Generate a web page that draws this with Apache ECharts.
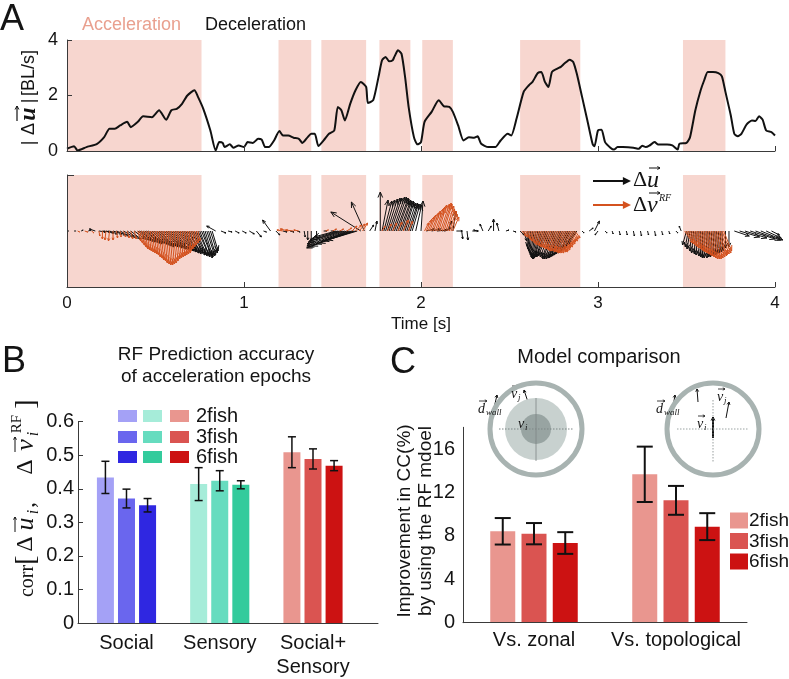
<!DOCTYPE html>
<html>
<head>
<meta charset="utf-8">
<script src="https://cdn.jsdelivr.net/npm/echarts@6/dist/echarts.min.js"></script>
<style>
html,body{margin:0;padding:0;background:#ffffff;}
#chart{width:789px;height:679px;}
</style>
</head>
<body>
<div id="chart"></div>
<script>
// ---------------- DATA ----------------
const speedT = [0.00,0.04,0.06,0.11,0.17,0.21,0.24,0.27,0.30,0.34,0.36,0.40,0.43,0.48,0.52,0.56,0.59,0.62,0.65,0.68,0.72,0.74,0.77,0.81,0.84,0.86,0.88,0.89,0.92,0.94,0.97,1.00,1.02,1.05,1.08,1.10,1.12,1.14,1.17,1.20,1.22,1.25,1.28,1.31,1.33,1.36,1.38,1.40,1.42,1.45,1.48,1.51,1.53,1.55,1.57,1.60,1.63,1.66,1.69,1.70,1.73,1.76,1.78,1.80,1.82,1.84,1.85,1.87,1.89,1.91,1.93,1.96,1.98,2.00,2.02,2.06,2.10,2.13,2.16,2.18,2.21,2.24,2.27,2.30,2.32,2.34,2.38,2.42,2.45,2.49,2.51,2.54,2.58,2.61,2.63,2.66,2.68,2.70,2.72,2.74,2.77,2.79,2.81,2.84,2.86,2.88,2.91,2.94,2.97,2.98,3.00,3.02,3.04,3.07,3.09,3.11,3.14,3.20,3.23,3.25,3.27,3.29,3.32,3.34,3.39,3.42,3.45,3.46,3.50,3.52,3.55,3.58,3.60,3.62,3.65,3.68,3.70,3.72,3.75,3.77,3.79,3.81,3.84,3.87,3.89,3.91,3.93,3.95,3.98,4.00];
const speedV = [0.08,0.17,0.02,0.14,0.26,0.50,0.80,0.80,0.92,1.05,0.86,1.05,1.25,1.22,1.47,1.13,1.47,1.52,1.70,2.00,2.19,1.95,1.52,0.74,0.02,0.32,0.29,0.14,0.24,0.12,0.20,0.14,0.32,0.29,0.44,0.41,0.14,0.14,0.38,0.72,0.56,0.56,0.48,0.44,0.29,0.50,0.62,0.62,0.18,0.38,0.62,0.74,1.59,1.47,1.10,1.70,2.19,2.49,2.31,1.73,1.83,2.67,3.27,3.39,3.23,3.27,3.40,3.63,3.50,2.67,1.59,0.50,0.24,0.32,1.05,1.41,1.83,1.61,1.59,1.41,0.92,0.38,0.50,0.48,0.53,0.26,0.14,0.14,0.38,0.62,0.56,1.17,2.13,2.37,2.49,2.81,2.85,2.49,2.31,2.85,2.97,3.03,3.15,3.29,3.21,2.79,1.95,1.10,0.24,0.17,0.74,0.77,0.32,0.12,0.05,0.14,0.14,0.12,0.08,0.19,0.14,0.19,0.32,0.23,0.23,0.20,0.05,0.26,0.29,0.50,1.47,2.19,2.55,2.85,2.85,2.81,2.69,2.13,1.29,0.62,0.53,0.62,0.96,1.10,1.08,1.25,1.13,0.74,0.68,0.56];
const accelEpochs = [[0,0.76],[1.195,1.38],[1.437,1.69],[1.765,1.94],[2.007,2.18],[2.56,2.90],[3.48,3.72]];
const arrowsU = [[0.00,2,0],[0.04,2,0],[0.08,2,1],[0.12,3,1],[0.16,-6,2],[0.18,7,-1],[0.20,8,-1],[0.22,8,-2],[0.24,8,-3],[0.26,9,-3],[0.28,9,-4],[0.30,9,-5],[0.32,10,-6],[0.34,10,-7],[0.36,10,-8],[0.38,11,-8],[0.40,11,-9],[0.41,12,-9],[0.42,11,-10],[0.43,12,-11],[0.44,12,-10],[0.45,13,-12],[0.46,12,-11],[0.47,12,-13],[0.48,12,-12],[0.49,13,-13],[0.50,13,-13],[0.51,14,-15],[0.52,13,-14],[0.53,13,-16],[0.54,13,-15],[0.55,14,-16],[0.56,13,-15],[0.57,14,-17],[0.58,13,-16],[0.59,14,-18],[0.60,13,-17],[0.61,14,-19],[0.62,14,-18],[0.63,15,-20],[0.64,14,-19],[0.65,14,-21],[0.66,13,-20],[0.67,13,-22],[0.68,13,-21],[0.69,12,-23],[0.70,12,-22],[0.71,12,-24],[0.72,11,-23],[0.73,11,-25],[0.74,11,-24],[0.75,10,-26],[0.76,10,-25],[0.77,9,-27],[0.78,8,-26],[0.79,8,-25],[0.80,7,-24],[0.81,7,-22],[0.82,6,-20],[0.84,-9,5],[0.87,5,-2],[0.91,4,-1],[0.95,4,-2],[0.99,4,-2],[1.03,5,-3],[1.07,5,-6],[1.11,3,-1],[1.15,-8,11],[1.18,4,-4],[1.22,4,-1],[1.26,4,-1],[1.30,3,-1],[1.34,1,-6],[1.36,0,-9],[1.38,0,-10],[1.41,0,-6],[1.45,3,0],[1.49,3,0],[1.52,-22,-6],[1.53,-26,-8],[1.54,-30,-10],[1.55,-33,-11],[1.56,-36,-13],[1.57,-38,-15],[1.58,-40,-17],[1.59,-40,-16],[1.60,-38,-15],[1.61,-36,-13],[1.62,-34,-12],[1.63,-32,-10],[1.64,-30,-9],[1.66,-30,19],[1.68,-13,29],[1.71,4,6],[1.74,2,10],[1.77,0,39],[1.78,6,31],[1.79,8,30],[1.80,9,31],[1.81,10,32],[1.82,11,33],[1.83,11,33],[1.84,12,34],[1.85,12,34],[1.86,12,33],[1.87,11,32],[1.88,11,31],[1.89,10,30],[1.90,10,30],[1.91,9,29],[1.92,9,28],[1.93,9,28],[1.94,8,27],[1.95,8,27],[1.97,6,26],[2.00,2,30],[2.03,8,2],[2.06,9,2],[2.09,10,1],[2.12,9,3],[2.15,4,10],[2.18,3,20],[2.20,6,0],[2.23,1,-8],[2.26,1,-9],[2.29,6,0],[2.32,-4,1],[2.35,-3,7],[2.38,3,5],[2.41,0,12],[2.44,-2,8],[2.48,3,1],[2.52,3,-1],[2.56,4,-4],[2.58,3,-10],[2.60,0,-15],[2.61,-1,-18],[2.62,-2,-20],[2.63,-3,-22],[2.64,-4,-24],[2.65,-5,-26],[2.66,-6,-27],[2.67,-7,-28],[2.68,-8,-28],[2.69,-9,-27],[2.70,-9,-26],[2.71,-10,-26],[2.72,-10,-25],[2.73,-10,-26],[2.74,-10,-27],[2.75,-11,-28],[2.76,-11,-28],[2.77,-11,-28],[2.78,-11,-27],[2.79,-12,-27],[2.80,-12,-26],[2.81,-12,-25],[2.82,-12,-24],[2.83,-12,-23],[2.84,-11,-22],[2.85,-11,-20],[2.86,-10,-18],[2.87,-9,-15],[2.88,-8,-12],[2.91,2,-2],[2.95,4,3],[2.98,5,10],[3.00,-3,-4],[3.04,2,-2],[3.08,1,-3],[3.12,1,-4],[3.16,1,-4],[3.20,1,-5],[3.24,1,-5],[3.28,1,-4],[3.32,1,-5],[3.36,1,-4],[3.40,1,-3],[3.44,2,-2],[3.47,-2,5],[3.50,-4,-14],[3.51,-3,-16],[3.52,-3,-18],[3.53,-2,-20],[3.54,-2,-22],[3.55,-1,-23],[3.56,-1,-24],[3.57,0,-25],[3.58,0,-26],[3.59,0,-27],[3.60,0,-27],[3.61,1,-27],[3.62,1,-26],[3.63,1,-26],[3.64,1,-25],[3.65,1,-25],[3.66,1,-24],[3.67,1,-23],[3.68,1,-22],[3.69,1,-21],[3.70,1,-20],[3.72,0,-17],[3.74,0,-16],[3.77,15,-5],[3.80,20,-6],[3.83,22,-7],[3.86,25,-8],[3.89,25,-9],[3.92,22,-9],[3.95,15,-7],[3.98,8,-4]];
const arrowsV = [[0.06,2,-1],[0.10,3,-1],[0.14,2,-2],[0.18,1,-5],[0.20,0,-8],[0.22,-1,-9],[0.24,-1,-10],[0.26,0,-9],[0.28,1,-7],[0.30,1,-6],[0.32,2,-6],[0.34,2,-7],[0.36,2,-8],[0.38,2,-8],[0.40,3,-10],[0.41,3,-12],[0.42,3,-14],[0.43,3,-16],[0.44,3,-18],[0.45,3,-19],[0.46,3,-20],[0.47,3,-21],[0.48,3,-22],[0.49,3,-23],[0.50,3,-24],[0.51,3,-26],[0.52,3,-27],[0.53,3,-29],[0.54,3,-30],[0.55,3,-32],[0.56,3,-33],[0.57,3,-34],[0.58,3,-34],[0.59,3,-33],[0.60,3,-32],[0.61,3,-30],[0.62,3,-28],[0.63,3,-27],[0.64,3,-26],[0.65,3,-25],[0.66,3,-24],[0.67,3,-23],[0.68,3,-22],[0.69,2,-20],[0.70,2,-18],[0.71,2,-16],[0.72,2,-14],[0.73,2,-12],[0.74,2,-10],[1.22,-6,1],[1.25,-8,2],[1.28,-8,1],[1.31,-5,1],[1.46,3,1],[1.50,4,2],[1.54,4,2],[1.58,5,3],[1.61,5,5],[1.63,6,6],[1.65,6,7],[1.67,5,8],[1.78,3,5],[1.81,4,7],[1.84,4,8],[1.87,4,9],[1.90,5,11],[1.93,4,10],[2.02,4,8],[2.03,5,11],[2.04,6,14],[2.05,6,16],[2.06,7,18],[2.07,7,20],[2.08,8,22],[2.09,8,24],[2.10,8,26],[2.11,9,27],[2.12,9,28],[2.13,8,27],[2.14,8,25],[2.15,7,22],[2.16,7,20],[2.17,6,17],[2.18,6,14],[2.57,4,-5],[2.58,4,-6],[2.59,5,-8],[2.60,5,-10],[2.61,6,-12],[2.62,6,-14],[2.63,7,-15],[2.64,7,-16],[2.65,8,-17],[2.66,8,-18],[2.67,9,-19],[2.68,9,-20],[2.69,9,-20],[2.70,10,-21],[2.71,10,-21],[2.72,10,-22],[2.73,10,-22],[2.74,10,-22],[2.75,10,-22],[2.76,10,-21],[2.77,10,-21],[2.78,9,-20],[2.79,9,-19],[2.80,8,-17],[2.81,8,-16],[2.82,7,-14],[2.83,7,-13],[2.84,6,-11],[2.85,6,-10],[2.86,5,-8],[2.87,5,-7],[3.49,8,-12],[3.50,8,-13],[3.51,9,-15],[3.52,9,-17],[3.53,10,-18],[3.54,10,-20],[3.55,10,-21],[3.56,10,-22],[3.57,10,-23],[3.58,10,-24],[3.59,10,-25],[3.60,10,-26],[3.61,10,-27],[3.62,10,-28],[3.63,10,-28],[3.64,10,-28],[3.65,10,-27],[3.66,10,-26],[3.67,10,-25],[3.68,9,-24],[3.69,9,-23],[3.70,9,-22],[3.71,8,-20]];
const timeTicks = [0,1,2,3,4];

const bCategories = ['Social','Sensory','Social+\nSensory'];
const bMean2 = [0.434,0.414,0.509];
const bErr2  = [0.048,0.049,0.046];
const bMean3 = [0.371,0.424,0.489];
const bErr3  = [0.028,0.030,0.030];
const bMean6 = [0.351,0.412,0.469];
const bErr6  = [0.020,0.012,0.015];
const bColors2 = ['#a4a1f6','#a6ecd9','#e9968f'];
const bColors3 = ['#6a66ee','#66dcbf','#da5451'];
const bColors6 = ['#2f27e1','#33cb9c','#cc1212'];
const fishNames = ['2fish','3fish','6fish'];

const cCategories = ['Vs. zonal','Vs. topological'];
const cMean2 = [8.42,13.67];
const cErr2  = [1.22,2.55];
const cMean3 = [8.20,11.27];
const cErr3  = [0.98,1.33];
const cMean6 = [7.34,8.85];
const cErr6  = [1.00,1.24];
const cColors = ['#e9968f','#da5451','#cc1212'];
const cTicks = [0,4,8,12,16];

const SANS = "'Liberation Sans', Arial, Helvetica, sans-serif";
const SERIF = "'Liberation Serif', 'Times New Roman', serif";
const AX = '#3a3a3a';
const TXT = '#141414';
const SHADE = '#f7d6cf';
const RED_Q = '#d4521f';

function shadeSeries(gi){
  return {
    type:'custom', xAxisIndex:gi, yAxisIndex:gi, z:1, silent:true,
    data: accelEpochs,
    renderItem(params, api){
      const cs = params.coordSys;
      const p0 = api.coord([api.value(0), 0]);
      const p1 = api.coord([api.value(1), 0]);
      return {type:'rect', shape:{x:p0[0], y:cs.y, width:p1[0]-p0[0], height:cs.height}, style:{fill:SHADE}};
    }
  };
}
function headPts(x1,y1,x2,y2,hl,spread){
  const ang = Math.atan2(y2-y1, x2-x1);
  const a1 = ang + Math.PI - spread, a2 = ang - Math.PI + spread;
  return [[x2+hl*Math.cos(a1), y2+hl*Math.sin(a1)], [x2,y2], [x2+hl*Math.cos(a2), y2+hl*Math.sin(a2)]];
}
function quiverSeries(arr, color, z){
  return {
    type:'custom', xAxisIndex:1, yAxisIndex:1, z:z, silent:true,
    data: arr,
    renderItem(params, api){
      const base = api.coord([api.value(0), 0]);
      const s = api.size([0,1])[1];
      const dx = api.value(1)*s, dy = -api.value(2)*s;
      const tip = [base[0]+dx, base[1]+dy];
      const len = Math.hypot(dx,dy);
      const ch = [{type:'line', shape:{x1:base[0],y1:base[1],x2:tip[0],y2:tip[1]}, style:{stroke:color, lineWidth:1}}];
      if (len > 2){
        const hl = Math.min(len*0.28, 6);
        ch.push({type:'polyline', shape:{points:headPts(base[0],base[1],tip[0],tip[1],hl,0.4)}, style:{stroke:color, fill:null, lineWidth:1}});
      }
      return {type:'group', children:ch};
    }
  };
}
function groupBarSeries(xi, means, colors, k, pitch, width){
  return {
    type:'custom', xAxisIndex:xi, yAxisIndex:xi, z:3, silent:true,
    data: means.map((m,i)=>[i, m]),
    renderItem(params, api){
      const i = params.dataIndex;
      const top = api.coord([i, means[i]]);
      const bot = api.coord([i, 0]);
      const cx = top[0] + (k-1)*pitch;
      return {type:'rect', shape:{x:cx-width/2, y:top[1], width:width, height:bot[1]-top[1]},
        style:{fill: Array.isArray(colors) ? colors[i] : colors}};
    }
  };
}
function errSeries(xi, means, errs, k, pitch, cap, lw){
  return {
    type:'custom', xAxisIndex:xi, yAxisIndex:xi, z:5, silent:true,
    data: means.map((m,i)=>[i, m]),
    renderItem(params, api){
      const i = params.dataIndex;
      const m = means[i], e = errs[i];
      const pc = api.coord([i, m]);
      const x = pc[0] + (k-1)*pitch;
      const y1 = api.coord([i, m + e])[1];
      const y2 = api.coord([i, m - e])[1];
      const st = {stroke:'#111', lineWidth:lw, fill:null};
      return {type:'group', children:[
        {type:'polyline', shape:{points:[[x-cap,y1],[x+cap,y1]]}, style:st},
        {type:'polyline', shape:{points:[[x,y1],[x,y2]]}, style:st},
        {type:'polyline', shape:{points:[[x-cap,y2],[x+cap,y2]]}, style:st}
      ]};
    }
  };
}

function txt(x,y,text,size,opts){
  opts = opts || {};
  return {type:'text', x:x, y:y, rotation:opts.rot||0, z:100, silent:true,
    style:{text:text, fontSize:size, fontFamily:opts.family||SANS, fontStyle:opts.style||'normal', fontWeight:opts.weight||'normal',
      fill:opts.color||TXT, textAlign:opts.align||'left', textVerticalAlign:'middle', align:opts.align||'left', verticalAlign:'middle'}};
}
function arrowG(x1,y1,x2,y2,color,lw,hl,filled){
  const pts = headPts(x1,y1,x2,y2,hl,filled?0.45:0.5);
  const ch = [];
  if (filled){
    const ang = Math.atan2(y2-y1,x2-x1);
    ch.push({type:'line', shape:{x1:x1,y1:y1,x2:x2-hl*0.8*Math.cos(ang),y2:y2-hl*0.8*Math.sin(ang)}, style:{stroke:color,lineWidth:lw}});
    ch.push({type:'polygon', shape:{points:pts}, style:{fill:color}});
  } else {
    ch.push({type:'line', shape:{x1:x1,y1:y1,x2:x2,y2:y2}, style:{stroke:color,lineWidth:lw}});
    ch.push({type:'polyline', shape:{points:pts}, style:{stroke:color,lineWidth:Math.min(lw,1),fill:null}});
  }
  return {type:'group', z:100, silent:true, children:ch};
}
function circ(cx,cy,r,fill,stroke,lw){
  return {type:'circle', z:90, silent:true, shape:{cx:cx,cy:cy,r:r}, style:{fill:fill||null, stroke:stroke||null, lineWidth:lw||0}};
}
function lineG(x1,y1,x2,y2,color,lw,dash){
  return {type:'line', z:95, silent:true, shape:{x1:x1,y1:y1,x2:x2,y2:y2}, style:{stroke:color,lineWidth:lw,lineDash:dash||null}};
}
function vecLabel(x,y,letter,sub){
  const w = letter==='d' ? 7 : 6;
  return [
    txt(x,y,letter,14,{family:SERIF, style:'italic'}),
    txt(x+w+1,y+4,sub,9,{family:SERIF, style:'italic'}),
    arrowG(x+1,y-8,x+w+2,y-8,'#111',0.8,2.5,false)
  ];
}

const I = Math.PI/2;
const graphics = [
  txt(0,20,'A',36),
  txt(2,362,'B',36),
  txt(390,363,'C',36),
  txt(82,25,'Acceleration',18,{color:'#e9a08f'}),
  txt(205,25,'Deceleration',18),
  txt(29,143,'|',18,{rot:I, align:'center'}),
  txt(29,129,'\u0394',18,{rot:I, align:'center'}),
  txt(29,114,'u',24,{rot:I, align:'center', family:SERIF, style:'italic', weight:'bold'}),
  arrowG(17,121,17,106,'#111',1.2,4,false),
  txt(29,101,'|',18,{rot:I, align:'center'}),
  txt(29,73,'[BL/s]',18,{rot:I, align:'center'}),
  arrowG(593,181,631,181,'#111',2,9,true),
  arrowG(593,205,631,205,RED_Q,2,9,true),
  txt(633,180,'\u0394',22,{family:SERIF}),
  txt(647,181,'u',24,{family:SERIF, style:'italic'}),
  arrowG(649,168,660,168,'#111',1,3,false),
  txt(633,205,'\u0394',22,{family:SERIF}),
  txt(647,206,'v',24,{family:SERIF, style:'italic'}),
  arrowG(649,193,660,193,'#111',1,3,false),
  txt(659,198,'RF',10,{family:SERIF, style:'italic'}),
  txt(216,355,'RF Prediction accuracy',19,{align:'center'}),
  txt(216,377,'of acceleration epochs',19,{align:'center'}),
  txt(28,581,'corr',20,{rot:I, align:'center', family:SERIF}),
  txt(27,560,'[',28,{rot:I, align:'center', family:SERIF}),
  txt(26,544,'\u0394',24,{rot:I, align:'center', family:SERIF}),
  txt(26,524,'u',26,{rot:I, align:'center', family:SERIF, style:'italic'}),
  arrowG(15,532,15,517,'#111',1,3,false),
  txt(34,512,'i',16,{rot:I, align:'center', family:SERIF, style:'italic'}),
  txt(28,505,',',24,{rot:I, align:'center', family:SERIF}),
  txt(26,467,'\u0394',24,{rot:I, align:'center', family:SERIF}),
  txt(26,445,'v',26,{rot:I, align:'center', family:SERIF, style:'italic'}),
  arrowG(15,452,15,437,'#111',1,3,false),
  txt(34,434,'i',16,{rot:I, align:'center', family:SERIF, style:'italic'}),
  txt(17,424,'RF',15,{rot:I, align:'center', family:SERIF}),
  txt(27,404,']',28,{rot:I, align:'center', family:SERIF}),
  txt(599,357,'Model comparison',20,{align:'center'}),
  txt(405,521,'Improvement in CC(%)',19,{rot:I, align:'center'}),
  txt(426,521,'by using the RF mdoel',19,{rot:I, align:'center'})
];
const bColorRows = [bColors2,bColors3,bColors6];
const swX = [118,143,170];
const swY = [410,431,451];
bColorRows.forEach((row,r)=>{
  row.forEach((col,c)=>{
    graphics.push({type:'rect', z:100, silent:true, shape:{x:swX[c], y:swY[r], width:19, height:12}, style:{fill:col}});
  });
  graphics.push(txt(196, swY[r]+6.5, fishNames[r], 20));
});
const cLegY = [512.5,533,553.5];
cColors.forEach((col,k)=>{
  graphics.push({type:'rect', z:100, silent:true, shape:{x:730, y:cLegY[k], width:18, height:16}, style:{fill:col}});
  graphics.push(txt(749, cLegY[k]+8.5, fishNames[k], 19));
});
graphics.push(circ(536,429,31,'#c8d1cf'));
graphics.push(circ(536,429,15,'#98a4a2'));
graphics.push(circ(536,429,46,null,'#a8b3b1',5));
graphics.push(lineG(499,429,573,429,'#7d8786',1,[1.5,1.5]));
graphics.push(lineG(536,398,536,461,'#7d8786',0.8));
graphics.push(arrowG(536,447,536,418,'#111',2,4,false));
graphics.push(arrowG(546,425,549,412,'#111',1,3,false));
graphics.push(arrowG(528,402,524,390,'#111',1,3,false));
graphics.push(arrowG(494,408,497,395,'#111',1,3,false));
graphics.push(...vecLabel(518,424,'v','i'));
graphics.push(...vecLabel(511,394,'v','j'));
graphics.push(...vecLabel(478,409,'d','wall'));
graphics.push(circ(713,429,46,null,'#a8b3b1',5));
graphics.push(lineG(677,429,748,429,'#9aa3a2',1,[1.5,1.5]));
graphics.push(lineG(713,400,713,462,'#7d8786',0.8,[1.5,1.5]));
graphics.push(arrowG(713,438,713,417,'#111',2,4,false));
graphics.push(arrowG(698,402,697,389,'#111',1,3,false));
graphics.push(arrowG(726,418,729,402,'#111',1,3,false));
graphics.push(arrowG(673,407,675,395,'#111',1,3,false));
graphics.push(...vecLabel(697,424,'v','i'));
graphics.push(...vecLabel(717,397,'v','j'));
graphics.push(...vecLabel(656,409,'d','wall'));

const axLine = {show:true, onZero:false, lineStyle:{color:AX, width:1}};
const option = {
  animation:false,
  backgroundColor:'#ffffff',
  textStyle:{fontFamily:SANS, color:TXT},
  grid:[
    {left:67, top:40, width:708, height:111},
    {left:67, top:175, width:708, height:112},
    {left:78, top:421.7, width:300, height:205},
    {left:463, top:427.3, width:284, height:195.4}
  ],
  xAxis:[
    {gridIndex:0, type:'value', min:0, max:4, interval:1, z:10,
      axisLine:axLine, axisTick:{inside:true, length:5, lineStyle:{color:AX}}, axisLabel:{show:false}, splitLine:{show:false}},
    {gridIndex:1, type:'value', min:0, max:4, interval:1, z:10,
      axisLine:axLine, axisTick:{inside:true, length:5, lineStyle:{color:AX}},
      axisLabel:{fontSize:17, color:TXT, margin:8, customValues:timeTicks},
      splitLine:{show:false},
      name:'Time [s]', nameLocation:'middle', nameGap:29, nameTextStyle:{fontSize:17, color:TXT}},
    {gridIndex:2, type:'value', min:-0.52, max:2.697, z:10,
      axisLine:axLine, axisTick:{show:false}, splitLine:{show:false},
      axisLabel:{customValues:[0,1,2], formatter:(v)=>bCategories[Math.round(v)], fontSize:20, lineHeight:24, color:TXT, margin:8}},
    {gridIndex:3, type:'category', data:cCategories, z:10,
      axisLine:axLine, axisTick:{show:false},
      axisLabel:{fontSize:20, color:TXT, margin:8, interval:0}}
  ],
  yAxis:[
    {gridIndex:0, type:'value', min:0, max:4, interval:2, z:10,
      axisLine:axLine, axisTick:{inside:true, length:5, lineStyle:{color:AX}},
      axisLabel:{fontSize:18, color:TXT, margin:9}, splitLine:{show:false}},
    {gridIndex:1, type:'value', min:-56, max:56, z:10,
      axisLine:axLine, axisTick:{inside:true, length:7, customValues:[56], lineStyle:{color:AX}},
      axisLabel:{show:false}, splitLine:{show:false}},
    {gridIndex:2, type:'value', min:0, max:0.6, interval:0.1, z:10,
      axisLine:axLine, axisTick:{inside:true, length:5, lineStyle:{color:AX}},
      axisLabel:{fontSize:20, color:TXT, margin:4, formatter:(v)=> v===0 ? '0' : v.toFixed(1)},
      splitLine:{show:false}},
    {gridIndex:3, type:'value', min:0, max:18, z:10,
      axisLine:axLine, axisTick:{inside:true, length:5, customValues:cTicks, lineStyle:{color:AX}},
      axisLabel:{fontSize:20, color:TXT, margin:8, customValues:cTicks},
      splitLine:{show:false}}
  ],
  series:[
    shadeSeries(0),
    shadeSeries(1),
    {type:'line', xAxisIndex:0, yAxisIndex:0, z:4, silent:true, showSymbol:false, smooth:0.2,
      lineStyle:{color:'#111', width:2},
      data: speedT.map((t,i)=>[t, speedV[i]])},
    quiverSeries(arrowsU, '#111', 3),
    quiverSeries(arrowsV, RED_Q, 4),
    groupBarSeries(2, bMean2, bColors2, 0, 21.08, 17),
    groupBarSeries(2, bMean3, bColors3, 1, 21.08, 17),
    groupBarSeries(2, bMean6, bColors6, 2, 21.08, 17),
    errSeries(2, bMean2, bErr2, 0, 21.08, 4, 1.5),
    errSeries(2, bMean3, bErr3, 1, 21.08, 4, 1.5),
    errSeries(2, bMean6, bErr6, 2, 21.08, 4, 1.5),
    ...[cMean2,cMean3,cMean6].map((m,k)=>({
      type:'bar', name:fishNames[k], xAxisIndex:3, yAxisIndex:3, barWidth:25, barGap:'25%', z:3, silent:true,
      itemStyle:{color:cColors[k]}, data:m
    })),
    errSeries(3, cMean2, cErr2, 0, 31.25, 8, 2),
    errSeries(3, cMean3, cErr3, 1, 31.25, 8, 2),
    errSeries(3, cMean6, cErr6, 2, 31.25, 8, 2)
  ],
  graphic: graphics
};
const chart = echarts.init(document.getElementById('chart'), null, {renderer:'canvas', width:789, height:679});
chart.setOption(option);
</script>
</body>
</html>
